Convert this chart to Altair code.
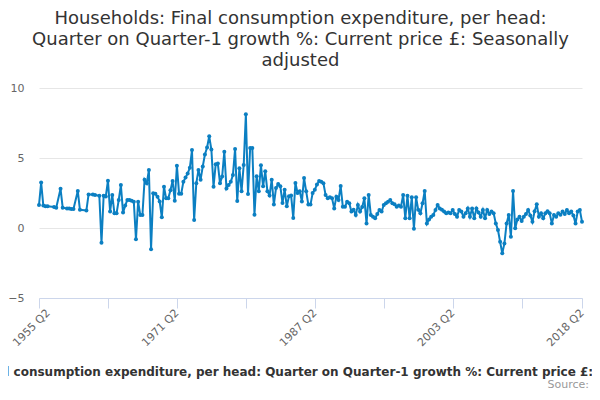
import altair as alt
import pandas as pd

# Quarter-on-quarter growth %, 1955 Q2 .. 2018 Q2 (None = quarter not published)
growth = [
    1.65, 3.25, 1.6, 1.55, 1.55, None, None, 1.5, 1.45, None,
    2.8, 1.45, None, 1.4, 1.4, 1.35, 1.35, None, 2.65, 1.3,
    None, None, 1.25, 2.4, None, 2.4, 2.35, None, 2.3, -1.05,
    2.3, 2.25, 3.38, 1.17, 2.36, 1.05, 1.05, 2.0, 3.07, 1.1,
    1.6, 2.0, 2.0, 1.95, 1.88, -0.81, 1.88, 0.93, 0.93, 3.45,
    3.19, 4.14, -1.52, 2.48, 2.45, 2.24, 1.9, 0.76, 2.95, 2.12,
    2.12, 2.7, 3.35, 1.95, 4.45, 2.45, 2.45, 3.3, 3.6, 3.9,
    4.3, 5.57, 0.57, 3.19, 4.14, 3.45, 4.4, 5.25, 5.75, 6.55,
    5.6, 2.95, 4.55, 4.6, 3.19, 3.67, 5.45, 2.83, 3.07, 3.3,
    3.79, 5.65, 1.92, 4.27, 2.62, 4.5, 8.13, 2.43, 5.71, 5.71,
    0.95, 3.69, 2.62, 4.48, 2.98, 4.05, 2.62, 2.33, 3.45, 1.67,
    2.86, 3.14, 2.98, 1.79, 2.74, 1.55, 2.26, 2.33, 0.71, 3.21,
    2.5, 2.62, 1.9, 3.57, 2.62, 1.67, 1.67, 2.5, 2.74, 3.1,
    3.35, 3.3, 3.19, 2.36, 2.12, 2.2, 2.12, 1.4, 2.24, 2.0,
    3.0, 1.52, 1.52, 1.88, 1.76, 1.17, 1.3, 0.93, 1.64, 1.17,
    1.5, 2.12, 0.33, 2.36, 0.93, 0.81, 0.69, 1.0, 1.29, 1.17,
    1.64, 1.76, 1.88, 2.0, 1.76, 1.7, 1.52, 1.6, 1.52, 2.36,
    0.7, 2.3, 0.69, 2.2, -0.05, 2.2, 1.3, 1.05, 1.76, 2.65,
    0.33, 0.6, 0.81, 0.93, 1.29, 1.64, 1.4, 1.3, 1.17, 1.05,
    1.1, 1.05, 1.29, 1.0, 0.81, 1.29, 1.17, 0.81, 1.05, 1.4,
    0.81, 1.4, 0.69, 1.4, 1.1, 0.81, 1.29, 0.69, 1.29, 1.0,
    1.17, 1.05, 0.33, -0.14, -0.98, -1.81, -1.1, 0.33, 0.93, -0.62,
    2.64, -0.02, 0.6, 0.81, 0.5, 0.81, 1.0, 1.29, 0.9, 0.45,
    1.2, 1.69, 0.81, 1.05, 0.7, 1.05, 1.2, 1.05, 0.33, 0.93,
    0.8, 1.05, 0.95, 1.17, 1.0, 1.29, 1.05, 1.17, 0.9, 0.33,
    1.17, 1.29, 0.45,
]
n = len(growth)
quarters = [f"{1955 + (i + 1) // 4} Q{(i + 1) % 4 + 1}" for i in range(n)]
tick_positions = list(range(0, 241, 16)) + [n - 1]
label_positions = [0, 64, 128, 192, n - 1]
y_ticks = [-5, 0, 5, 10]

TITLE_LINES = [
    "Households: Final consumption expenditure, per head:",
    "Quarter on Quarter-1 growth %: Current price £: Seasonally",
    "adjusted",
]
AXIS_TITLE = ("Households: Final consumption expenditure, per head: Quarter on "
              "Quarter-1 growth %: Current price £: Seasonally adjusted")
SOURCE = ["Source:"]

FONT = "DejaVu Sans"
BLUE = "#0b7fc2"

df = pd.DataFrame({"idx": list(range(n)), "quarter": quarters, "value": growth}).dropna()

label_expr = "''"
for p in reversed(label_positions):
    label_expr = f"datum.value == {p} ? '{quarters[p]}' : ({label_expr})"

x_enc = alt.X(
    "idx:Q",
    scale=alt.Scale(domain=[0, n - 1], nice=False, zero=False),
    axis=alt.Axis(
        values=tick_positions, labelExpr=label_expr, labelAngle=315,
        labelAlign="right", labelBaseline="middle", labelFontSize=11,
        labelColor="#666666", labelFont=FONT, labelPadding=3,
        labelOffset={"condition": {"test": "datum.value == 0", "value": 9}, "value": 0},
        labelFlush=False, labelOverlap=False,
        tickSize=10, tickColor="#ccd6eb", domainColor="#ccd6eb", grid=False,
        title=AXIS_TITLE, titleFont=FONT, titleFontSize=12, titleFontWeight="bold",
        titleColor="#333333", titleY=77, titleBaseline="alphabetic", titleLimit=2000,
    ),
)
y_enc = alt.Y(
    "value:Q",
    scale=alt.Scale(domain=[-5, 10], nice=False, zero=False),
    axis=alt.Axis(
        values=y_ticks, grid=True, gridColor="#e6e6e6", domain=False, ticks=False,
        labelPadding=15, labelFontSize=11, labelColor="#666666", labelFont=FONT,
        title=None,
    ),
)

base = alt.Chart(df)
line = base.mark_line(color=BLUE, strokeWidth=2).encode(x=x_enc, y=y_enc)
pts = base.mark_circle(color=BLUE, size=16, opacity=1).encode(
    x="idx:Q", y="value:Q", tooltip=["quarter:N", "value:Q"]
)
source = alt.Chart(pd.DataFrame({"t": SOURCE})).mark_text(
    align="right", baseline="alphabetic", font=FONT, fontSize=11, color="#999999"
).encode(text="t:N", x=alt.value(550), y=alt.value(300))

chart = alt.layer(line, pts, source).properties(
    width=543,
    height=210,
    title=alt.TitleParams(
        text=TITLE_LINES, font=FONT, fontSize=18, fontWeight="normal",
        color="#333333", anchor="middle", frame="group", dx=-10, offset=12,
        lineHeight=21,
    ),
    padding={"left": 31, "top": 80, "right": 10, "bottom": 94},
    autosize=alt.AutoSizeParams(type="none"),
).configure_view(stroke=None)

chart.save("out.html", embed_options={"renderer": "svg", "actions": False})
